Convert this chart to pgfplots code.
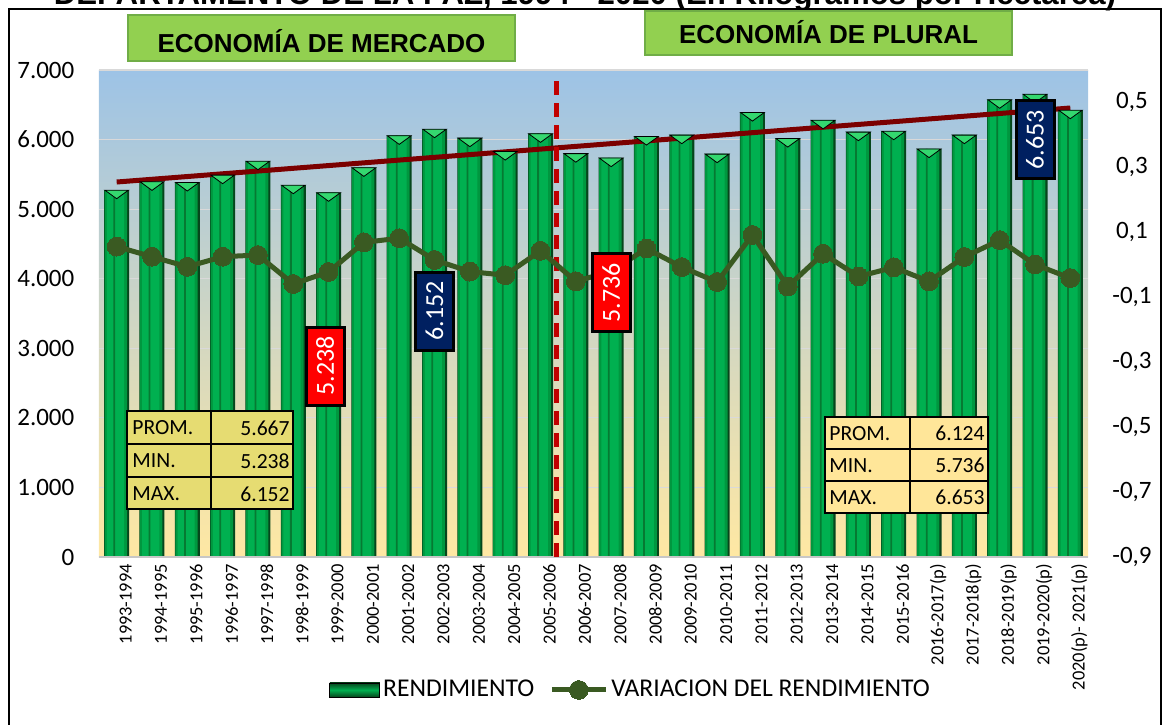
\documentclass[border=0pt]{standalone}
\usepackage{fontspec}
\setmainfont{Carlito}
\newfontfamily\arialfont{Liberation Sans}
\usepackage{pgfplots}
\pgfplotsset{compat=1.18}

\definecolor{bardark}{HTML}{06461C}
\definecolor{barmid}{HTML}{00973F}
\definecolor{barlight}{HTML}{00B050}
\definecolor{bargroove}{HTML}{067A32}
\definecolor{barcap}{HTML}{34D86F}
\definecolor{varline}{HTML}{3A5A22}
\definecolor{trend}{HTML}{7B0000}
\definecolor{divider}{HTML}{C00000}
\definecolor{skytop}{HTML}{9DC3E6}
\definecolor{sandbot}{HTML}{FFE8A3}
\definecolor{banner}{HTML}{92D050}
\definecolor{bannerline}{HTML}{70AD47}
\definecolor{tabA}{HTML}{E6DC72}
\definecolor{tabB}{HTML}{FFE699}
\definecolor{navybox}{HTML}{002060}
\definecolor{gridc}{HTML}{D9D9D9}

% rendimiento (kg/ha)
\pgfplotstableread{
x  y
0  5275
1  5395
2  5386
3  5491
4  5692
5  5347
6  5238
7  5596
8  6056
9  6152
10 6023
11 5830
12 6085
13 5800
14 5736
15 6046
16 6066
17 5793
18 6391
19 6017
20 6279
21 6109
22 6123
23 5866
24 6066
25 6575
26 6653
27 6425
}\rendimiento

% variacion del rendimiento
\pgfplotstableread{
x  v
0  0.056
1  0.025
2  -0.006
3  0.025
4  0.030
5  -0.059
6  -0.022
7  0.069
8  0.082
9  0.015
10 -0.021
11 -0.032
12 0.043
13 -0.051
14 -0.020
15 0.050
16 -0.007
17 -0.053
18 0.092
19 -0.067
20 0.034
21 -0.036
22 -0.008
23 -0.051
24 0.024
25 0.076
26 0.001
27 -0.041
}\variacion

\pgfplotsset{
  base/.style={
    at={(49.5pt,-278.5pt)}, anchor=south west,
    scale only axis, width=494.5pt, height=243.5pt,
    xmin=-0.5, xmax=27.5,
    axis line style={draw=none}, major tick length=0pt,
    tick label style={font=\fontsize{12.5}{14}\selectfont},
  },
  barlayer/.style={ybar, draw=none, forget plot},
}

\begin{document}
\begin{tikzpicture}
\useasboundingbox (0pt,0pt) rectangle (581.5pt,-362pt);
\clip (0pt,0pt) rectangle (581.5pt,-362pt);

\begin{scope}[x=0.5pt,y=-0.5pt]
\draw[line width=1pt] (9,9) rectangle (1161,760);
\node[font=\arialfont\bfseries\fontsize{15.6}{18}\selectfont, anchor=base] at (585,4)
  {DEPARTAMENTO DE LA PAZ, 1994 - 2020 (En Kilogramos por Hectarea)};
\end{scope}

\begin{axis}[base,
  ymin=0, ymax=7000,
  ytick={0,1000,2000,3000,4000,5000,6000,7000},
  yticklabels={0,1.000,2.000,3.000,4.000,5.000,6.000,7.000},
  yticklabel style={xshift=-8.8pt},
  xtick={0,...,27},
  xticklabels={1993-1994,1994-1995,1995-1996,1996-1997,1997-1998,1998-1999,1999-2000,
    2000-2001,2001-2002,2002-2003,2003-2004,2004-2005,2005-2006,2006-2007,2007-2008,
    2008-2009,2009-2010,2010-2011,2011-2012,2012-2013,2013-2014,2014-2015,2015-2016,
    2016-2017(p),2017-2018(p),2018-2019(p),2019-2020(p),2020(p)- 2021(p)},
  xticklabel style={rotate=90, anchor=east, yshift=-4.5pt, font=\fontsize{9.2}{10}\selectfont},
  ymajorgrids, grid style={gridc, line width=0.6pt},
  axis background/.style={shade, top color=skytop, bottom color=sandbot},
]
% bars built from stacked layers so each one looks like a bevelled column
\addplot[barlayer, bar width=12.5pt, fill=bardark] table[x=x, y=y] {\rendimiento};
\addplot[barlayer, bar width=11.2pt, bar shift=-0.4pt, fill=barmid] table[x=x, y=y] {\rendimiento};
\addplot[barlayer, bar width=8.6pt, bar shift=-0.6pt, fill=barlight] table[x=x, y=y] {\rendimiento};
\addplot[barlayer, bar width=0.9pt, bar shift=-1.2pt, fill=bargroove] table[x=x, y=y] {\rendimiento};
\addplot[only marks, forget plot, mark=triangle*, yshift=-1.5pt,
  mark options={rotate=180, yscale=0.42, fill=barcap, draw=none}, mark size=6.8pt]
  table[x=x, y=y] {\rendimiento};
\draw[gridc!80!gray, line width=1pt] (rel axis cs:0,0) -- (rel axis cs:1,0);
% tendencia lineal
\addplot[trend, line width=2.5pt] coordinates {(0,5390) (27,6454)};
% separacion entre periodos
\addplot[divider, line width=2.5pt, dash pattern=on 7pt off 4pt] coordinates {(12.45,0) (12.45,6856)};
\coordinate (l1) at (axis cs:5.9,2745);
\coordinate (l2) at (axis cs:9,3536);
\coordinate (l3) at (axis cs:14,3795);
\coordinate (l4) at (axis cs:26,5994);
\end{axis}

\begin{axis}[base,
  ymin=-0.9, ymax=0.6,
  hide x axis,
  ytick={-0.9,-0.7,-0.5,-0.3,-0.1,0.1,0.3,0.5},
  yticklabels={{-0,9},{-0,7},{-0,5},{-0,3},{-0,1},{0,1},{0,3},{0,5}},
  yticklabel pos=right,
  yticklabel style={anchor=center, xshift=22pt},
  legend columns=2,
  legend style={at={(0.538,-0.273)}, anchor=center, draw=none, fill=none,
    font=\fontsize{12.8}{14}\selectfont, nodes={inner sep=1.5pt},
    /tikz/every even column/.append style={column sep=6pt}},
]
\addlegendimage{legend image code/.code={
  \shade[top color=bardark, bottom color=bardark, middle color=barlight] (0pt,-3.5pt) rectangle (25pt,3.5pt);}}
\addlegendentry{RENDIMIENTO}
\addplot[varline, line width=2.5pt, mark=*, mark size=4.7pt,
  mark options={fill=varline, draw=varline, line width=0pt},
  legend image code/.code={\draw[mark repeat=2,mark phase=2] plot coordinates {(0pt,0pt) (13.5pt,0pt) (27pt,0pt)};}]
  table[x=x, y=v] {\variacion};
\addlegendentry{VARIACION DEL RENDIMIENTO}
\end{axis}

\tikzset{vbox/.style={rotate=90, draw=black, line width=1.5pt, text=white,
  minimum width=39pt, minimum height=19pt, inner sep=0pt, font=\fontsize{13}{14}\selectfont}}
\node[vbox, fill=red] at (l1) {5.238};
\node[vbox, fill=navybox] at (l2) {6.152};
\node[vbox, fill=red] at (l3) {5.736};
\node[vbox, fill=navybox] at (l4) {6.653};

\begin{scope}[x=0.5pt,y=-0.5pt, tab/.style={font=\fontsize{10.8}{12}\selectfont, inner sep=0pt}]
% banners
\draw[fill=banner, draw=bannerline, line width=0.8pt] (128,15) rectangle (515,61);
\node[font=\arialfont\bfseries\fontsize{13}{15}\selectfont, anchor=base] at (321.5,52) {ECONOMÍA DE MERCADO};
\draw[fill=banner, draw=bannerline, line width=0.8pt] (645,11) rectangle (1012,55);
\node[font=\arialfont\bfseries\fontsize{13}{15}\selectfont, anchor=base] at (828.5,43) {ECONOMÍA DE PLURAL};
% tabla economia de mercado
\fill[tabA] (127,411) rectangle (293,509);
\draw[line width=1pt] (127,411) rectangle (293,509) (211,411) -- (211,509)
  (127,444) -- (293,444) (127,477) -- (293,477);
\node[tab, anchor=west] at (132,428) {PROM.};
\node[tab, anchor=west] at (132,461) {MIN.};
\node[tab, anchor=west] at (132,494) {MAX.};
\node[tab, anchor=east] at (290,428) {5.667};
\node[tab, anchor=east] at (290,461) {5.238};
\node[tab, anchor=east] at (290,494) {6.152};
% tabla economia plural
\fill[tabB] (825,417) rectangle (988,513);
\draw[line width=1pt] (825,417) rectangle (988,513) (910,417) -- (910,513)
  (825,449) -- (988,449) (825,481) -- (988,481);
\node[tab, anchor=west] at (829,433.5) {PROM.};
\node[tab, anchor=west] at (829,465.5) {MIN.};
\node[tab, anchor=west] at (829,497.5) {MAX.};
\node[tab, anchor=east] at (985,433.5) {6.124};
\node[tab, anchor=east] at (985,465.5) {5.736};
\node[tab, anchor=east] at (985,497.5) {6.653};
\end{scope}
\end{tikzpicture}
\end{document}
